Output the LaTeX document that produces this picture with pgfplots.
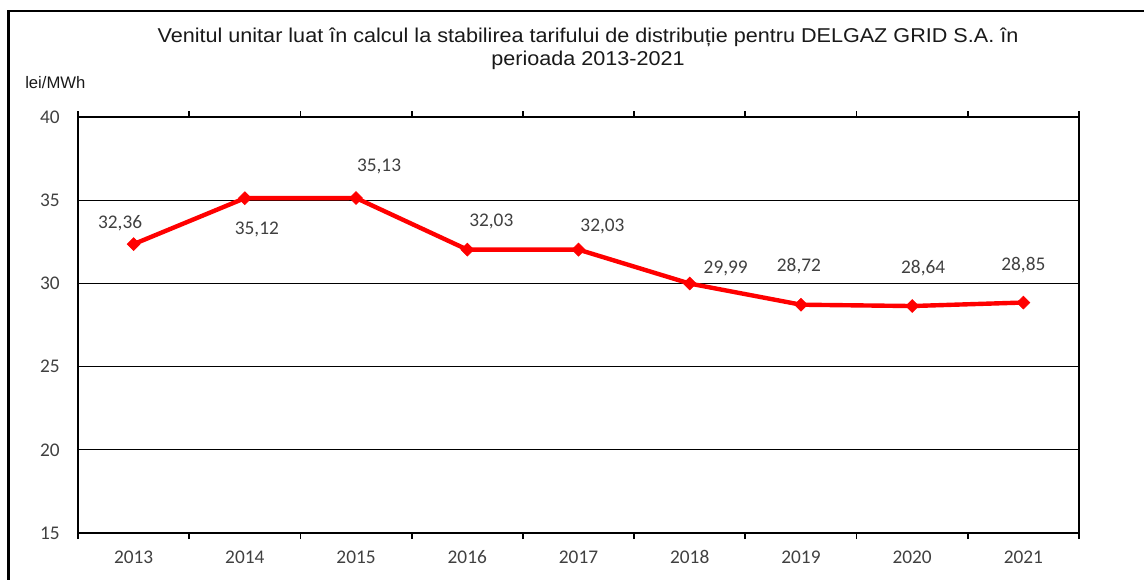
\documentclass[border=0pt]{standalone}
\usepackage{pgfplots}
\pgfplotsset{compat=1.18}
\usepackage{pgfplotstable}
\usepackage{fontspec}
\setmainfont{Liberation Sans}
\newfontfamily\titlefont[FakeStretch=1.08]{Liberation Sans}
\newfontfamily\carlito{Carlito}
\definecolor{lblgray}{HTML}{404040}

\pgfplotstableread{
x y lab dx dy
0 32.36 {32,36} -10.1 15.75
1 35.12 {35,12} 9 -23.25
2 35.13 {35,13} 17.25 24
3 32.03 {32,03} 18 21
4 32.03 {32,03} 18 17.25
5 29.99 {29,99} 27 11.25
6 28.72 {28,72} -1.5 29.25
7 28.64 {28,64} 8.25 28.5
8 28.85 {28,85} 0 27.75
}\datatable

\begin{document}
\begin{tikzpicture}[x=0.75pt,y=0.75pt]
\useasboundingbox (0,0) rectangle (1144,579);
\draw[line width=1.8pt] (8.5,568) rectangle (1160,-30);
\node[font=\titlefont\fontsize{15}{17.25}\selectfont, align=center, text=black!90] at (588,530.5)
  {Venitul unitar luat în calcul la stabilirea tarifului de distribuție pentru DELGAZ GRID S.A. în\\perioada 2013-2021};
\node[font=\fontsize{12.5}{14}\selectfont, anchor=base west, inner sep=0pt, text=black!90] at (25,490) {lei/MWh};
\begin{axis}[
  at={(58.5pt,34.5pt)}, anchor=south west,
  width=750.75pt, height=312pt, scale only axis,
  xmin=-0.5, xmax=8.5, ymin=15, ymax=40,
  ytick={15,20,...,40},
  xtick={0,...,8},
  xticklabels={2013,2014,2015,2016,2017,2018,2019,2020,2021},
  minor xtick={-0.5,0.5,...,8.5},
  major tick length=0pt, minor tick length=4.5pt,
  tick align=outside,
  minor tick style={black, line width=1.3pt},
  ymajorgrids, major grid style={black, line width=0.9pt},
  axis line style={black, line width=1.6pt},
  /pgf/number format/assume math mode=true,
  ticklabel style={font=\carlito\fontsize{14.5}{16}\selectfont, text=lblgray},
  yticklabel style={xshift=-10.25pt},
  xticklabel style={anchor=base, yshift=-22.5pt},
  clip=false,
]
\addplot[red, line width=3.3pt, mark=square*, mark size=3.4pt,
  mark options={rotate=45, solid, line width=0.5pt},
  nodes near coords, point meta=explicit symbolic,
  visualization depends on={\thisrow{dx} \as \dx},
  visualization depends on={\thisrow{dy} \as \dy},
  every node near coord/.style={anchor=center, xshift=\dx pt, yshift=\dy pt,
    font=\carlito\fontsize{14.5}{16}\selectfont, text=lblgray, inner sep=0pt},
] table[x=x, y=y, meta=lab] {\datatable};
\end{axis}
\end{tikzpicture}
\end{document}
